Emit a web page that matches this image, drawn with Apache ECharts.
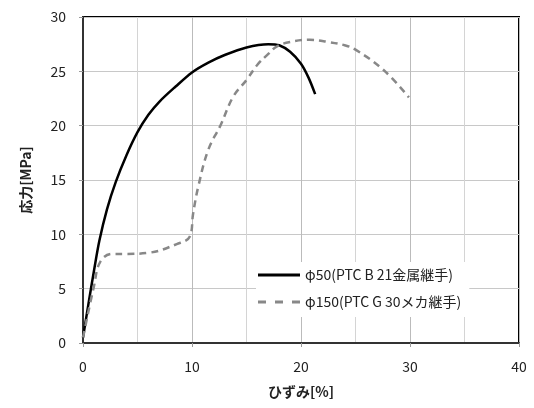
<!DOCTYPE html>
<html>
<head>
<meta charset="utf-8">
<script src="https://cdn.jsdelivr.net/npm/echarts@6/dist/echarts.min.js"></script>
<style>
  html, body { margin: 0; padding: 0; background: #fff; }
  #chart { width: 534px; height: 408px; }
</style>
</head>
<body>
<div id="chart"></div>
<script>
// 系列名
var seriesNames = ['φ50(PTC B 21金属継手)', 'φ150(PTC G 30メカ継手)'];

// φ50 : [ひずみ %, 応力 MPa]
var strainA = [0, 0.5, 1, 1.5, 2.2, 3, 4, 5, 6, 7, 8.5, 10, 11.5, 13, 15, 17, 18, 19, 20, 20.7, 21.3];
var stressA = [0.5, 3.6, 6.6, 9.4, 12.3, 14.8, 17.3, 19.4, 21.0, 22.2, 23.6, 24.9, 25.8, 26.5, 27.2, 27.5, 27.4, 26.8, 25.7, 24.4, 22.9];

// φ150
var strainB = [0, 1, 1.6, 2.7, 4, 6, 8.6, 9.8, 10.1, 10.6, 11.5, 12.6, 13.8, 15, 16, 17, 17.8, 19, 20.8, 22.5, 24, 25, 27.6, 29.9];
var stressB = [0.5, 5.2, 7.5, 8.2, 8.2, 8.3, 9.1, 9.8, 11.9, 14.5, 17.8, 20, 22.7, 24.2, 25.6, 26.6, 27.3, 27.7, 27.9, 27.7, 27.4, 27, 25.1, 22.6];

function zip(xs, ys) {
    var res = [];
    xs.forEach(function (x, i) {
        res.push([x, ys[i]]);
    });
    return res;
}

var myChart = echarts.init(document.getElementById('chart'));
var font = "'Noto Sans CJK JP', 'Open Sans', sans-serif";

myChart.setOption({
    animation: false,
    textStyle: { fontFamily: font },
    grid: {
        left: 83, right: 15, top: 17, bottom: 65,
        show: true, borderColor: '#000', borderWidth: 2
    },
    legend: {
        data: [
            { name: seriesNames[0], icon: 'path://M0,0 L42,0 L42,3 L0,3 Z', itemStyle: { color: '#000' } },
            { name: seriesNames[1], icon: 'path://M0,0 h8 v3 h-8 Z M17,0 h8 v3 h-8 Z M34,0 h8 v3 h-8 Z', itemStyle: { color: '#888' } }
        ],
        orient: 'vertical',
        left: 256,
        top: 262,
        backgroundColor: '#fff',
        padding: [6, 8, 8, 2],
        itemGap: 13,
        itemWidth: 42,
        itemHeight: 3,
        textStyle: { fontSize: 14, color: '#222', fontFamily: font }
    },
    xAxis: {
        type: 'value',
        min: 0, max: 40, interval: 10,
        name: 'ひずみ[%]',
        nameLocation: 'middle',
        nameGap: 42,
        nameTextStyle: { fontSize: 14, fontWeight: 'bold', color: '#222' },
        axisLine: { show: true, lineStyle: { color: '#333', width: 2 } },
        axisTick: { show: true, length: 4, lineStyle: { color: '#999' } },
        axisLabel: { fontSize: 14, color: '#222', margin: 17 },
        splitLine: { show: true, lineStyle: { color: '#bbb', width: 1 } },
        minorTick: { show: false, splitNumber: 2 },
        minorSplitLine: { show: true, lineStyle: { color: '#d4d4d4', width: 1 } }
    },
    yAxis: {
        type: 'value',
        min: 0, max: 30, interval: 5,
        name: '応力[MPa]',
        nameLocation: 'middle',
        nameGap: 50,
        nameTextStyle: { fontSize: 14, fontWeight: 'bold', color: '#222' },
        axisLine: { show: true, lineStyle: { color: '#333', width: 2 } },
        axisTick: { show: true, length: 4, lineStyle: { color: '#999' } },
        axisLabel: { fontSize: 14, color: '#222', margin: 17 },
        splitLine: { show: true, lineStyle: { color: '#c8c8c8', width: 1 } }
    },
    series: [{
        name: seriesNames[0],
        type: 'line',
        smooth: 0.3,
        symbol: 'none',
        lineStyle: { color: '#000', width: 2.5 },
        itemStyle: { color: '#000' },
        data: zip(strainA, stressA)
    }, {
        name: seriesNames[1],
        type: 'line',
        smooth: 0.4,
        symbol: 'none',
        lineStyle: { color: '#888', width: 2.5, type: [7, 5] },
        itemStyle: { color: '#888' },
        data: zip(strainB, stressB)
    }]
});
</script>
</body>
</html>
